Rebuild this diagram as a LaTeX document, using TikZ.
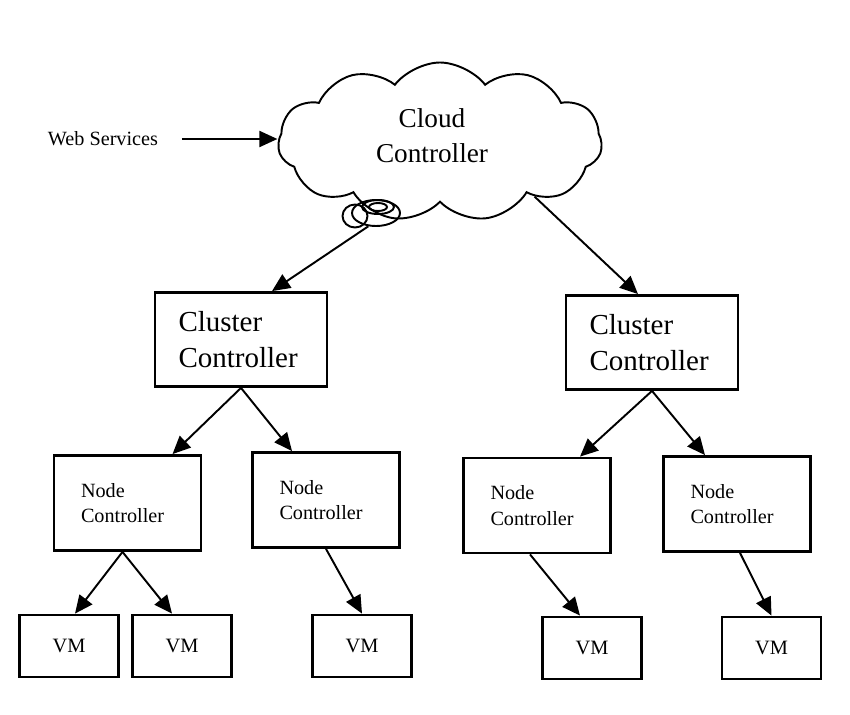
\documentclass[tikz,border=0pt]{standalone}
\usepackage{fontspec}
\setmainfont{Liberation Serif}
\usetikzlibrary{shapes.symbols,shapes.geometric,arrows.meta}
\begin{document}
\begin{tikzpicture}[>={Triangle[length=3.6mm,width=3.2mm]}, x=0.2mm, y=-0.2mm, line width=1.1pt,
box/.style={draw, line width=1.6pt, align=left},
clus/.style={box, minimum width=34.4mm, minimum height=18.8mm, text width=25mm, inner xsep=4.7mm, font=\fontsize{16.5}{20.5}\selectfont},
nctl/.style={box, minimum width=29.4mm, minimum height=19mm, text width=18.6mm, inner xsep=5.4mm, font=\fontsize{11.5}{14.7}\selectfont},
vm/.style={box, align=center, minimum width=19.8mm, minimum height=12.4mm, font=\fontsize{11.6}{14}\selectfont},
bub/.style={draw, ellipse, inner sep=0pt}]
\useasboundingbox (0,0) rectangle (850,714);
\node[draw, cloud, cloud puffs=11, cloud puff arc=105, cloud ignores aspect, minimum width=64.8mm, minimum height=31.8mm] (cloud) at (440,142) {};
\node[align=center, font=\fontsize{15.5}{20}\selectfont] (cloudtxt) at (432,136) {Cloud\\Controller};
\node[bub, minimum width=5mm, minimum height=4.6mm] (bubo) at (355,216) {};
\node[bub, minimum width=9.6mm, minimum height=5.2mm] (tail) at (376,213) {};
\node[bub, minimum width=6.4mm, minimum height=2.8mm] (tailm) at (378,207) {};
\node[bub, minimum width=3.6mm, minimum height=1.6mm] (taili) at (378,207) {};
\node[font=\fontsize{11.5}{14}\selectfont] (web) at (103,139) {Web Services};
\node[clus] (cc1) at (241,339.5) {Cluster\\Controller};
\node[clus] (cc2) at (652,342.5) {Cluster\\Controller};
\node[nctl] (nc1) at (127.5,503) {Node\\Controller};
\node[nctl] (nc2) at (326,500) {Node\\Controller};
\node[nctl] (nc3) at (537,505.5) {Node\\Controller};
\node[nctl] (nc4) at (737,504) {Node\\Controller};
\node[vm] (vm1) at (69,646) {VM};
\node[vm] (vm2) at (182,646) {VM};
\node[vm] (vm3) at (362,646) {VM};
\node[vm] (vm4) at (592,648) {VM};
\node[vm] (vm5) at (771.5,648) {VM};
\draw[->] ([xshift=3.4mm]web.east) -- (cloud.west |- web.east);
\draw[->] (tail.-120) -- ([xshift=6.2mm]cc1.north);
\draw[->] (cloud.-30) -- ([xshift=-2.8mm]cc2.north);
\foreach \a/\b/\s/\t in {cc1/nc1/0/9, cc1/nc2/0/-6.8, cc2/nc3/0/8.6, cc2/nc4/0/-6.4, nc1/vm1/-1/1.2, nc1/vm2/-1/-2, nc2/vm3/0/0, nc3/vm4/-1.4/-2.4, nc4/vm5/0.6/0}
  \draw[->] ([xshift=\s mm]\a.south) -- ([xshift=\t mm]\b.north);
\end{tikzpicture}
\end{document}
